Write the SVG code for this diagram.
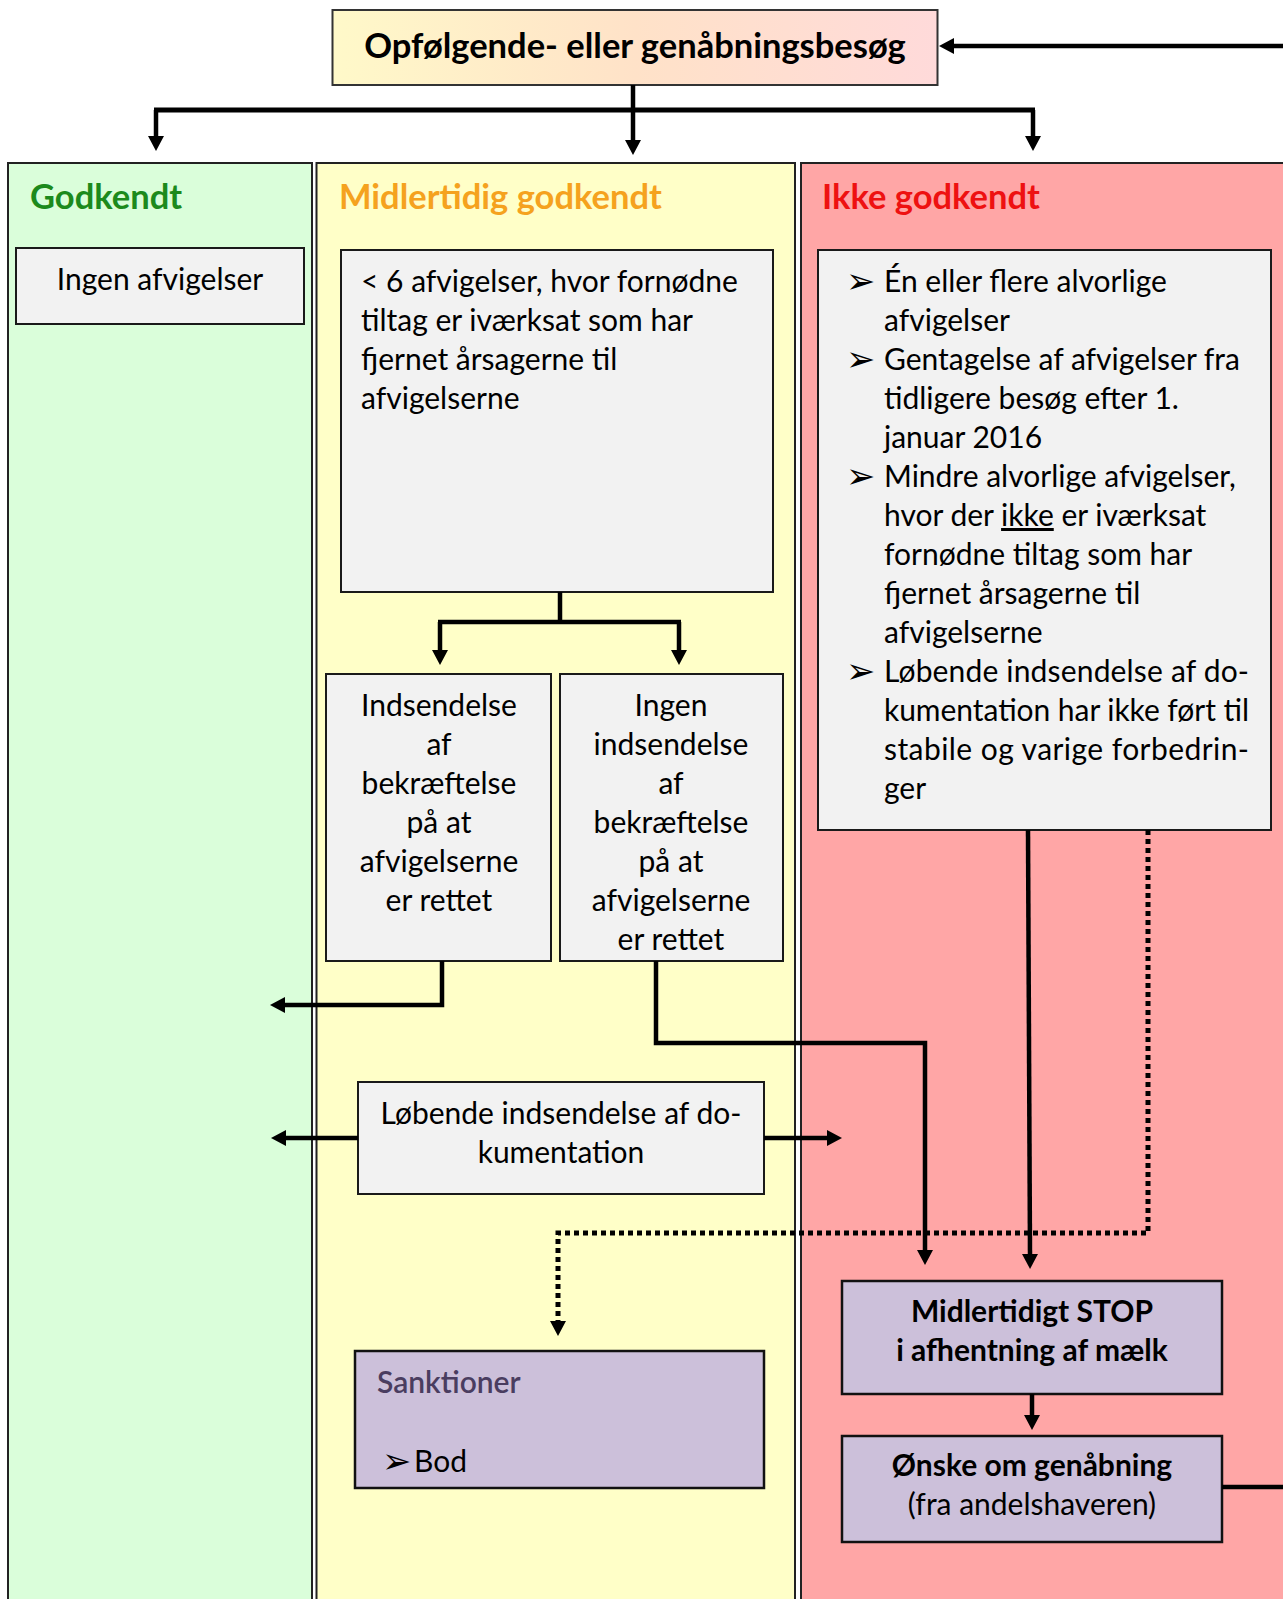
<svg xmlns="http://www.w3.org/2000/svg" width="1283" height="1599" viewBox="0 0 1283 1599">
<style>
text{font-family:Lato,"Liberation Sans",sans-serif;fill:#000}
.t{font-size:30px}
.b{font-size:30px;font-weight:bold}
.h{font-size:34.5px;font-weight:bold}
.c{text-anchor:middle}
.bul{font-family:"DejaVu Sans",sans-serif;font-size:35px}
.box{fill:#f2f2f2;stroke:#1a1a1a;stroke-width:2}
.lav{fill:#ccc0da;stroke:#111;stroke-width:2.5}
.col{stroke:#222;stroke-width:2}
.ln{fill:none;stroke:#000;stroke-width:4.5}
.dot{fill:none;stroke:#000;stroke-width:5;stroke-dasharray:5 4}
</style>
<defs>
<linearGradient id="tg" x1="0" y1="0" x2="1" y2="0">
<stop offset="0" stop-color="#fff9c9"/>
<stop offset="0.5" stop-color="#ffe2c8"/>
<stop offset="1" stop-color="#ffdada"/>
</linearGradient>
<marker id="ah" viewBox="0 0 15 16" refX="2" refY="8" markerWidth="15" markerHeight="16" markerUnits="userSpaceOnUse" orient="auto">
<path d="M0,0 L15,8 L0,16 z" fill="#000"/>
</marker>
</defs>

<g id="col-godkendt">
<rect class="col" x="8" y="163" width="304" height="1440" fill="#dafeda"/>
<text class="h" x="30" y="209" style="fill:#1c8a1c">Godkendt</text>
</g>
<g id="col-midlertidig">
<rect class="col" x="316.5" y="163" width="478.5" height="1440" fill="#ffffc8"/>
<text class="h" x="339" y="209" style="fill:#f5a21e">Midlertidig godkendt</text>
</g>
<g id="col-ikke">
<rect class="col" x="801" y="163" width="490" height="1440" fill="#ffa6a6"/>
<text class="h" x="822" y="209" style="fill:#ee1111">Ikke godkendt</text>
</g>

<g id="title">
<rect x="332.5" y="10" width="605" height="75" fill="url(#tg)" stroke="#333" stroke-width="2"/>
<text class="h c" x="635" y="58">Opfølgende- eller genåbningsbesøg</text>
</g>

<g id="ingen-afvigelser">
<rect class="box" x="16" y="248" width="288" height="76"/>
<text class="t c" x="160" y="290">Ingen afvigelser</text>
</g>

<g id="faa-afvigelser">
<rect class="box" x="341" y="250" width="432" height="342"/>
<text class="t" x="361" y="292">&lt; 6 afvigelser, hvor fornødne</text>
<text class="t" x="361" y="331">tiltag er iværksat som har</text>
<text class="t" x="361" y="370">fjernet årsagerne til</text>
<text class="t" x="361" y="409">afvigelserne</text>
</g>

<g id="ikke-liste">
<rect class="box" x="818" y="250" width="453" height="580"/>
<text class="bul" x="846" y="293">➢</text>
<text class="t" x="884" y="292">Én eller flere alvorlige</text>
<text class="t" x="884" y="331">afvigelser</text>
<text class="bul" x="846" y="371">➢</text>
<text class="t" x="884" y="370">Gentagelse af afvigelser fra</text>
<text class="t" x="884" y="409">tidligere besøg efter 1.</text>
<text class="t" x="884" y="448">januar 2016</text>
<text class="bul" x="846" y="488">➢</text>
<text class="t" x="884" y="487">Mindre alvorlige afvigelser,</text>
<text class="t" x="884" y="526">hvor der <tspan text-decoration="underline">ikke</tspan> er iværksat</text>
<text class="t" x="884" y="565">fornødne tiltag som har</text>
<text class="t" x="884" y="604">fjernet årsagerne til</text>
<text class="t" x="884" y="643">afvigelserne</text>
<text class="bul" x="846" y="683">➢</text>
<text class="t" x="884" y="682" textLength="365" lengthAdjust="spacing">Løbende indsendelse af do-</text>
<text class="t" x="884" y="721" textLength="365" lengthAdjust="spacing">kumentation har ikke ført til</text>
<text class="t" x="884" y="760" textLength="365" lengthAdjust="spacing">stabile og varige forbedrin-</text>
<text class="t" x="884" y="799">ger</text>
</g>

<g id="indsendelse">
<rect class="box" x="326" y="674" width="225" height="287"/>
<text class="t c" x="439" y="716">Indsendelse</text>
<text class="t c" x="439" y="755">af</text>
<text class="t c" x="439" y="794">bekræftelse</text>
<text class="t c" x="439" y="833">på at</text>
<text class="t c" x="439" y="872">afvigelserne</text>
<text class="t c" x="439" y="911">er rettet</text>
</g>

<g id="ingen-indsendelse">
<rect class="box" x="560" y="674" width="223" height="287"/>
<text class="t c" x="671" y="716">Ingen</text>
<text class="t c" x="671" y="755">indsendelse</text>
<text class="t c" x="671" y="794">af</text>
<text class="t c" x="671" y="833">bekræftelse</text>
<text class="t c" x="671" y="872">på at</text>
<text class="t c" x="671" y="911">afvigelserne</text>
<text class="t c" x="671" y="950">er rettet</text>
</g>

<g id="loebende">
<rect class="box" x="358" y="1082" width="406" height="112"/>
<text class="t c" x="561" y="1124">Løbende indsendelse af do-</text>
<text class="t c" x="561" y="1163">kumentation</text>
</g>

<g id="sanktioner">
<rect class="lav" x="355" y="1351" width="409" height="137"/>
<text x="377" y="1393" style="font-size:30px;font-weight:600;fill:#4a3d60">Sanktioner</text>
<text class="bul" x="382" y="1473">➢</text>
<text class="t" x="414" y="1472">Bod</text>
</g>

<g id="stop">
<rect class="lav" x="842" y="1281" width="380" height="113"/>
<text class="b c" x="1032" y="1322">Midlertidigt STOP</text>
<text class="b c" x="1032" y="1361">i afhentning af mælk</text>
</g>

<g id="oenske">
<rect class="lav" x="842" y="1436" width="380" height="106"/>
<text class="b c" x="1032" y="1476">Ønske om genåbning</text>
<text class="t c" x="1032" y="1515">(fra andelshaveren)</text>
</g>

<g id="connectors">
<path class="ln" d="M1283,46 L952,46" marker-end="url(#ah)"/>
<path class="ln" d="M633,85 L633,142" marker-end="url(#ah)"/>
<path class="ln" style="stroke-width:5" d="M154,110 L1035,110"/>
<path class="ln" d="M156,110 L156,138" marker-end="url(#ah)"/>
<path class="ln" d="M1033,110 L1033,138" marker-end="url(#ah)"/>
<path class="ln" d="M560,592 L560,622"/>
<path class="ln" d="M438,622 L681,622"/>
<path class="ln" d="M440,622 L440,652" marker-end="url(#ah)"/>
<path class="ln" d="M679,622 L679,652" marker-end="url(#ah)"/>
<path class="ln" d="M442,961 L442,1005 L283,1005" marker-end="url(#ah)"/>
<path class="ln" d="M656,961 L656,1043 L925,1043 L925,1252" marker-end="url(#ah)"/>
<path class="ln" d="M358,1138 L284,1138" marker-end="url(#ah)"/>
<path class="ln" d="M764,1138 L829,1138" marker-end="url(#ah)"/>
<path class="ln" d="M1028,830 L1030,1256" marker-end="url(#ah)"/>
<path class="dot" d="M1148,830 L1148,1233 L558,1233 L558,1323" marker-end="url(#ah)"/>
<path class="ln" d="M1032,1394 L1032,1417" marker-end="url(#ah)"/>
<path class="ln" d="M1222,1487 L1283,1487"/>
</g>
</svg>
